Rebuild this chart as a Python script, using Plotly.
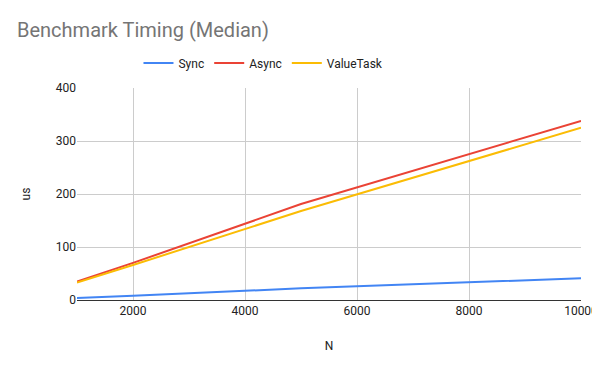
import plotly.graph_objects as go

n_values = [1000, 2000, 5000, 10000]
sync_us = [4, 8, 22, 41]
async_us = [35, 70, 181, 338]
valuetask_us = [33, 66, 168, 325]

series = [
    ("Sync", sync_us, "#4285F4"),
    ("Async", async_us, "#EA4335"),
    ("ValueTask", valuetask_us, "#FBBC04"),
]

fig = go.Figure()
for name, vals, color in series:
    fig.add_trace(go.Scatter(x=n_values, y=vals, mode="lines", name=name,
                             line=dict(color=color, width=2)))

# page body has an 8px margin, so the figure is sized/offset to compensate
fig.update_layout(
    width=600, height=363,
    paper_bgcolor="white", plot_bgcolor="white",
    font=dict(family="Roboto, Arial, sans-serif", size=12, color="#222222"),
    title=dict(text="Benchmark Timing (Median)", x=0.015, xanchor="left",
               y=0.939, yanchor="middle",
               font=dict(size=20, color="#757575")),
    legend=dict(orientation="h", x=0.37, xanchor="center", y=1.118, yanchor="middle",
                font=dict(size=12, color="#222222"), itemwidth=30),
    margin=dict(l=69, r=27, t=80, b=71, autoexpand=False),
    xaxis=dict(range=[1000, 10000], tickvals=[2000, 4000, 6000, 8000, 10000],
               tickformat="d", automargin=False,
               showgrid=True, gridcolor="#cccccc", zeroline=False,
               showline=True, linecolor="#333333", linewidth=1,
               title=dict(text="N", font=dict(size=12, color="#222222"), standoff=24),
               tickfont=dict(size=12, color="#222222"), ticks=""),
    yaxis=dict(range=[0, 400], tickvals=[0, 100, 200, 300, 400],
               automargin=False,
               showgrid=True, gridcolor="#cccccc", zeroline=False,
               showline=False,
               title=dict(text="us", font=dict(size=12, color="#222222"), standoff=22),
               tickfont=dict(size=12, color="#222222"), ticks=""),
)

fig.write_html("out.html")
